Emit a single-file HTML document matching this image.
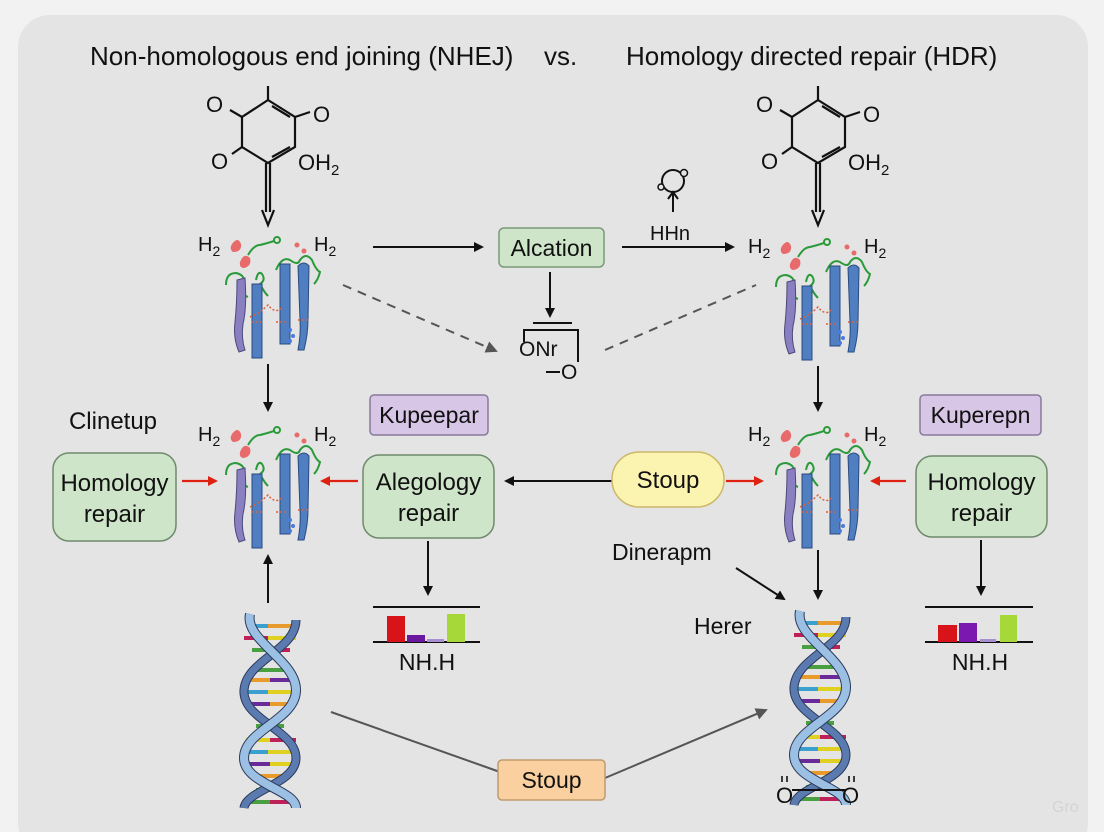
<!DOCTYPE html>
<html><head><meta charset="utf-8"><style>
html,body{margin:0;padding:0;background:#f2f2f2;}
svg{display:block;}
text{font-family:"Liberation Sans","DejaVu Sans",sans-serif;fill:#111;}
</style></head><body>
<svg width="1104" height="832" viewBox="0 0 1104 832" xmlns="http://www.w3.org/2000/svg">
<defs>
<marker id="ab" markerWidth="10" markerHeight="10" refX="8" refY="5" orient="auto" markerUnits="userSpaceOnUse"><path d="M0,0 L10,5 L0,10 z" fill="#111"/></marker>
<marker id="ar" markerWidth="10" markerHeight="10" refX="8" refY="5" orient="auto" markerUnits="userSpaceOnUse"><path d="M0,0 L10,5 L0,10 z" fill="#d21"/></marker>
<marker id="ag" markerWidth="12" markerHeight="12" refX="10" refY="6" orient="auto" markerUnits="userSpaceOnUse"><path d="M0,0 L12,6 L0,12 z" fill="#555"/></marker>
<g id="prot">
  <text x="198" y="251" font-size="20">H<tspan font-size="14" dy="5">2</tspan></text>
  <text x="314" y="251" font-size="20">H<tspan font-size="14" dy="5">2</tspan></text>
  <path d="M232,244 q6,-8 9,0 q1,8 -8,8 q-4,-3 -1,-8z" fill="#e86a6a"/>
  <path d="M240,262 q4,-10 10,-4 q2,8 -6,10 q-5,0 -4,-6z" fill="#e86a6a"/>
  <path d="M248,255 q6,-10 12,-10 q8,-2 14,-4" stroke="#2a9a3a" stroke-width="2" fill="none"/>
  <circle cx="277" cy="240" r="3" fill="none" stroke="#2a9a3a" stroke-width="2"/>
  <circle cx="297" cy="245" r="2.5" fill="#e86a6a"/><circle cx="304" cy="251" r="2.5" fill="#e86a6a"/>
  <path d="M226,285 q0,-12 10,-12 q10,2 8,12 q-2,10 4,12" stroke="#2a9a3a" stroke-width="2" fill="none"/>
  <path d="M256,280 q2,-10 6,-6 q4,6 -2,10 q4,8 8,12" stroke="#2a9a3a" stroke-width="2" fill="none"/>
  <path d="M276,270 q6,-14 14,-10 q8,6 10,0 q6,-8 12,0 q4,10 8,12 q-2,8 -6,12" stroke="#2a9a3a" stroke-width="2" fill="none"/>
  <path d="M237,280 l8,-2 q2,30 -2,46 q-2,14 2,26 l-6,2 q-6,-14 -4,-30 q2,-20 2,-42z" fill="#8a7fc0" stroke="#4a4a7a" stroke-width="1"/>
  <rect x="252" y="284" width="10" height="74" fill="#4f7fc0" stroke="#2a4a80" stroke-width="1"/>
  <rect x="280" y="264" width="10" height="80" fill="#4f7fc0" stroke="#2a4a80" stroke-width="1"/>
  <path d="M298,266 q6,-6 11,0 l-1,54 q0,14 -4,30 l-6,0 q3,-16 2,-30z" fill="#4f7fc0" stroke="#2a4a80" stroke-width="1"/>
  <path d="M250,317 q10,-4 18,-12 q8,10 14,2 M252,322 h10 M276,322 h12 M298,320 h10" stroke="#d9603a" stroke-width="1.5" stroke-dasharray="2,2" fill="none"/>
  <circle cx="290" cy="330" r="2" fill="#4a7ae0"/><circle cx="293" cy="336" r="2" fill="#4a7ae0"/><circle cx="290" cy="341" r="2" fill="#4a7ae0"/>
</g>
<g id="dna">
  <g stroke-width="4">
    <line x1="248" y1="626" x2="268" y2="626" stroke="#3aa0d0"/><line x1="268" y1="626" x2="296" y2="626" stroke="#e89a2a"/>
    <line x1="244" y1="638" x2="268" y2="638" stroke="#c0205a"/><line x1="268" y1="638" x2="296" y2="638" stroke="#e0d020"/>
    <line x1="252" y1="650" x2="270" y2="650" stroke="#4aa040"/><line x1="270" y1="650" x2="290" y2="650" stroke="#c0205a"/>
    <line x1="256" y1="670" x2="284" y2="670" stroke="#4aa040"/>
    <line x1="246" y1="680" x2="270" y2="680" stroke="#e89a2a"/><line x1="270" y1="680" x2="296" y2="680" stroke="#6a2a9a"/>
    <line x1="244" y1="692" x2="268" y2="692" stroke="#3aa0d0"/><line x1="268" y1="692" x2="298" y2="692" stroke="#e0d020"/>
    <line x1="246" y1="704" x2="270" y2="704" stroke="#6a2a9a"/><line x1="270" y1="704" x2="294" y2="704" stroke="#e89a2a"/>
    <line x1="256" y1="726" x2="284" y2="726" stroke="#4aa040"/>
    <line x1="246" y1="740" x2="270" y2="740" stroke="#e0d020"/><line x1="270" y1="740" x2="296" y2="740" stroke="#c0205a"/>
    <line x1="244" y1="752" x2="268" y2="752" stroke="#3aa0d0"/><line x1="268" y1="752" x2="298" y2="752" stroke="#e0d020"/>
    <line x1="246" y1="764" x2="270" y2="764" stroke="#6a2a9a"/><line x1="270" y1="764" x2="296" y2="764" stroke="#e0d020"/>
    <line x1="252" y1="776" x2="288" y2="776" stroke="#e89a2a"/>
    <line x1="256" y1="790" x2="284" y2="790" stroke="#4aa040"/>
    <line x1="248" y1="802" x2="270" y2="802" stroke="#4aa040"/><line x1="270" y1="802" x2="294" y2="802" stroke="#c0205a"/>
  </g>
  <path d="M296,620 C296,650 246,660 244,690 C242,720 296,730 296,758 C296,784 246,790 244,808" stroke="#2a3a5a" stroke-width="9" fill="none"/>
  <path d="M296,620 C296,650 246,660 244,690 C242,720 296,730 296,758 C296,784 246,790 244,808" stroke="#5a7ab0" stroke-width="7" fill="none"/>
  <path d="M250,614 C244,640 296,660 296,690 C296,720 244,730 244,758 C244,784 296,790 296,808" stroke="#2a3a5a" stroke-width="10" fill="none"/>
  <path d="M250,614 C244,640 296,660 296,690 C296,720 244,730 244,758 C244,784 296,790 296,808" stroke="#9cc0e4" stroke-width="8" fill="none"/>
</g>
<g id="chem" stroke="#111" stroke-width="2.2" fill="none">
  <path d="M268,100 L295,117 V147 L268,163 L242,147 V117 Z"/>
  <path d="M268,86 V100"/>
  <path d="M272,106 L290,117 M290,147 L272,157"/>
  <path d="M242,117 L230,110 M242,147 L232,154 M295,117 L310,112"/>
  <path d="M266,163 V212 M270,163 V212"/>
  <path d="M262,210 L268,225 L274,210"/>
</g>
</defs>

<rect x="18" y="15" width="1070" height="840" rx="32" fill="#e4e4e4"/>

<text x="90" y="65" font-size="26">Non-homologous end joining (NHEJ)</text>
<text x="544" y="65" font-size="26">vs.</text>
<text x="626" y="65" font-size="26">Homology directed repair (HDR)</text>

<use href="#chem"/>
<text x="206" y="112" font-size="22">O</text>
<text x="211" y="169" font-size="22">O</text>
<text x="313" y="122" font-size="22">O</text>
<text x="298" y="170" font-size="22">OH<tspan font-size="15" dy="5">2</tspan></text>
<use href="#chem" transform="translate(550,0)"/>
<text x="756" y="112" font-size="22">O</text>
<text x="761" y="169" font-size="22">O</text>
<text x="863" y="122" font-size="22">O</text>
<text x="848" y="170" font-size="22">OH<tspan font-size="15" dy="5">2</tspan></text>

<use href="#prot"/>
<use href="#prot" transform="translate(0,190)"/>
<use href="#prot" transform="translate(550,2)"/>
<use href="#prot" transform="translate(550,190)"/>

<g stroke="#111" stroke-width="2" fill="none">
  <line x1="373" y1="247" x2="482" y2="247" marker-end="url(#ab)"/>
  <line x1="622" y1="247" x2="733" y2="247" marker-end="url(#ab)"/>
  <line x1="550" y1="272" x2="550" y2="316" marker-end="url(#ab)"/>
  <line x1="268" y1="364" x2="268" y2="410" marker-end="url(#ab)"/>
  <line x1="818" y1="366" x2="818" y2="410" marker-end="url(#ab)"/>
  <line x1="612" y1="481" x2="506" y2="481" marker-end="url(#ab)"/>
  <line x1="428" y1="541" x2="428" y2="594" marker-end="url(#ab)"/>
  <line x1="981" y1="540" x2="981" y2="594" marker-end="url(#ab)"/>
  <line x1="818" y1="550" x2="818" y2="598" marker-end="url(#ab)"/>
  <line x1="268" y1="603" x2="268" y2="556" marker-end="url(#ab)"/>
  <line x1="736" y1="568" x2="784" y2="599" marker-end="url(#ab)"/>
  <line x1="673" y1="212" x2="673" y2="194"/>
  <path d="M668,199 L673,192 L678,199"/>
  <circle cx="673" cy="181" r="11"/>
</g>
<circle cx="661" cy="187" r="3" fill="#e4e4e4" stroke="#111" stroke-width="1.5"/>
<circle cx="684" cy="173" r="3.5" fill="#e4e4e4" stroke="#111" stroke-width="1.5"/>
<text x="650" y="240" font-size="20">HHn</text>

<g stroke="#555" stroke-width="2" fill="none">
  <line x1="343" y1="285" x2="496" y2="351" stroke-dasharray="9,7" marker-end="url(#ag)"/>
  <line x1="605" y1="350" x2="756" y2="285" stroke-dasharray="9,7"/>
  <line x1="331" y1="712" x2="500" y2="772"/>
  <line x1="605" y1="778" x2="766" y2="710" marker-end="url(#ag)"/>
</g>

<g stroke="#d21" stroke-width="2.2">
  <line x1="182" y1="481" x2="216" y2="481" marker-end="url(#ar)"/>
  <line x1="358" y1="481" x2="322" y2="481" marker-end="url(#ar)"/>
  <line x1="726" y1="481" x2="762" y2="481" marker-end="url(#ar)"/>
  <line x1="906" y1="481" x2="872" y2="481" marker-end="url(#ar)"/>
</g>

<!-- ONr -->
<g stroke="#111" stroke-width="2" fill="none">
  <line x1="533" y1="323" x2="572" y2="323"/>
  <path d="M524,342 V330 H578 V362"/>
  <line x1="546" y1="372" x2="560" y2="372"/>
</g>
<text x="519" y="356" font-size="21">ONr</text>
<text x="561" y="379" font-size="21">O</text>

<rect x="499" y="228" width="105" height="39" rx="5" fill="#cfe5c9" stroke="#7a9a78" stroke-width="1.5"/>
<text x="551.5" y="256" font-size="23" text-anchor="middle">Alcation</text>

<text x="113" y="429" font-size="24" text-anchor="middle">Clinetup</text>
<rect x="53" y="453" width="123" height="88" rx="16" fill="#cfe5c9" stroke="#6f8a6c" stroke-width="1.5"/>
<text x="114.5" y="491" font-size="24" text-anchor="middle">Homology</text>
<text x="114.5" y="522" font-size="24" text-anchor="middle">repair</text>

<rect x="370" y="395" width="118" height="40" rx="4" fill="#d7c6e6" stroke="#8a7a9a" stroke-width="1.5"/>
<text x="429" y="423" font-size="23" text-anchor="middle">Kupeepar</text>
<rect x="363" y="455" width="131" height="83" rx="16" fill="#cfe5c9" stroke="#6f8a6c" stroke-width="1.5"/>
<text x="428.5" y="490" font-size="24" text-anchor="middle">Alegology</text>
<text x="428.5" y="521" font-size="24" text-anchor="middle">repair</text>

<rect x="612" y="452" width="112" height="55" rx="27" fill="#fbf3b0" stroke="#cdb86a" stroke-width="1.5"/>
<text x="668" y="488" font-size="24" text-anchor="middle">Stoup</text>

<rect x="920" y="395" width="121" height="40" rx="4" fill="#d7c6e6" stroke="#8a7a9a" stroke-width="1.5"/>
<text x="980.5" y="423" font-size="23" text-anchor="middle">Kuperepn</text>
<rect x="916" y="456" width="131" height="81" rx="16" fill="#cfe5c9" stroke="#6f8a6c" stroke-width="1.5"/>
<text x="981.5" y="490" font-size="24" text-anchor="middle">Homology</text>
<text x="981.5" y="521" font-size="24" text-anchor="middle">repair</text>

<g stroke="#111" stroke-width="2"><line x1="373" y1="607" x2="480" y2="607"/><line x1="373" y1="642" x2="480" y2="642"/>
<line x1="925" y1="607" x2="1033" y2="607"/><line x1="925" y1="642" x2="1033" y2="642"/></g>
<rect x="387" y="616" width="18" height="26" fill="#d8141a"/>
<rect x="407" y="635" width="18" height="7" fill="#6a18a0"/>
<rect x="427" y="639" width="17" height="3" fill="#a890d0"/>
<rect x="447" y="614" width="18" height="28" fill="#a6d83a"/>
<rect x="938" y="625" width="19" height="17" fill="#d8141a"/>
<rect x="959" y="623" width="18" height="19" fill="#7a18b0"/>
<rect x="980" y="639" width="16" height="3" fill="#a890d0"/>
<rect x="1000" y="615" width="17" height="27" fill="#a6d83a"/>
<text x="427" y="670" font-size="23" text-anchor="middle">NH.H</text>
<text x="980" y="670" font-size="23" text-anchor="middle">NH.H</text>

<text x="612" y="560" font-size="23">Dinerapm</text>
<text x="694" y="634" font-size="23">Herer</text>

<use href="#dna"/>
<use href="#dna" transform="translate(550,-3)"/>
<text x="776" y="803" font-size="22">O</text>
<text x="842" y="803" font-size="22">O</text>
<line x1="792" y1="790" x2="846" y2="790" stroke="#111" stroke-width="2"/>
<g stroke="#111" stroke-width="1.6"><line x1="782" y1="776" x2="782" y2="782"/><line x1="787" y1="776" x2="787" y2="782"/><line x1="849" y1="776" x2="849" y2="782"/><line x1="854" y1="776" x2="854" y2="782"/></g>

<rect x="498" y="760" width="107" height="40" rx="4" fill="#fbd0a0" stroke="#c09a6a" stroke-width="1.5"/>
<text x="551.5" y="788" font-size="23" text-anchor="middle">Stoup</text>
<text x="1052" y="812" font-size="16" style="fill:#d4d4d4">Gro</text>
</svg>
</body></html>
